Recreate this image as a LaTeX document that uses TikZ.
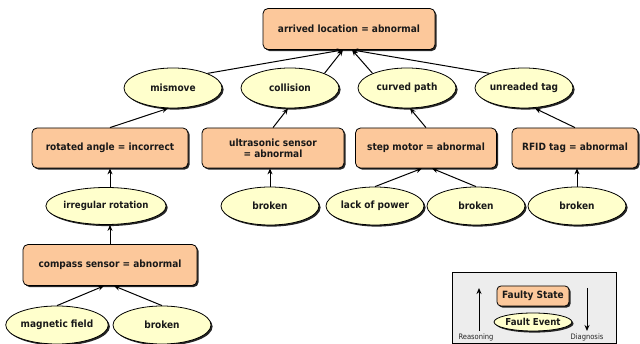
\documentclass[tikz,border=0pt]{standalone}
\usepackage{fontspec}
\setmainfont{DejaVu Sans Condensed}
\usetikzlibrary{arrows.meta,shapes.geometric,shadows}

\definecolor{stateorange}{HTML}{FCC89B}
\definecolor{eventyellow}{HTML}{FFFFCC}
\definecolor{legendgray}{HTML}{EDEDED}

\tikzset{
  faultstate/.style={draw, line width=0.8pt, rounded corners=5pt, fill=stateorange,
    minimum height=40pt, inner sep=1pt, align=center, text=black!90,
    font=\fontsize{10}{11}\selectfont\bfseries,
    drop shadow={shadow xshift=1.6pt, shadow yshift=-1.6pt, fill=black!85, opacity=1}},
  faultevent/.style={draw, line width=0.8pt, ellipse, fill=eventyellow,
    minimum width=98pt, minimum height=40pt, inner sep=0pt, text=black!90,
    font=\fontsize{10}{11}\selectfont\bfseries,
    drop shadow={shadow xshift=1.6pt, shadow yshift=-1.6pt, fill=black!85, opacity=1}},
  link/.style={line width=1pt, -{Stealth[length=6pt,width=5pt]}},
}

\begin{document}
\begin{tikzpicture}[x=1pt, y=-1pt]

  %% ════ 画布 ════
  \path[use as bounding box] (0,0) rectangle (640,344);

  %% ════ 顶层状态 ════
  \node[faultstate, minimum width=172pt, minimum height=41pt] (arrived) at (349,29) {arrived location = abnormal};

  %% ════ 第一层事件 ════
  \node[faultevent] (mismove)   at (173,88) {mismove};
  \node[faultevent] (collision) at (290,88) {collision};
  \node[faultevent] (curved)    at (407,88) {curved path};
  \node[faultevent] (unreaded)  at (524,88) {unreaded tag};

  %% ════ 第二层状态 ════
  \node[faultstate, minimum width=156pt] (rotated)    at (110,148) {rotated angle = incorrect};
  \node[faultstate, minimum width=142pt] (ultrasonic) at (273,148) {ultrasonic sensor\\= abnormal};
  \node[faultstate, minimum width=141pt] (stepmotor)  at (426,148) {step motor = abnormal};
  \node[faultstate, minimum width=126pt] (rfid)       at (575,148) {RFID tag = abnormal};

  %% ════ 第三层事件 ════
  \node[faultevent, minimum width=97pt, minimum height=37pt, font=\fontsize{9.6}{11}\selectfont\bfseries] (irregular) at (106,206) {irregular rotation};
  \node[faultevent, minimum height=38pt] (usbroken)   at (270,206) {broken};
  \node[faultevent, minimum height=38pt] (lackpower)  at (375,206) {lack of power};
  \node[faultevent, minimum height=38pt] (smbroken)   at (476,206) {broken};
  \node[faultevent, minimum height=38pt] (rfidbroken) at (577,206) {broken};

  %% ════ 指南针 ════
  \node[faultstate, minimum width=174pt, minimum height=41pt] (compass) at (110,265) {compass sensor = abnormal};
  \node[faultevent, minimum height=38pt] (magnetic) at (57,325)  {magnetic field};
  \node[faultevent, minimum height=38pt] (cpbroken) at (162,325) {broken};

  %% ════ 连线（子 → 父）════
  \draw[link] (mismove.23)    -- ([xshift=-6pt]arrived.south);
  \draw[link] (collision.23)  -- ([xshift=-6pt]arrived.south);
  \draw[link] (curved.157)    -- ([xshift=3pt]arrived.south);
  \draw[link] (unreaded.157)  -- ([xshift=3pt]arrived.south);

  \draw[link] (rotated.north)                 -- ([xshift=-5pt]mismove.south);
  \draw[link] (ultrasonic.north)              -- ([xshift=-2pt]collision.south);
  \draw[link] (stepmotor.north)               -- ([xshift=3pt]curved.south);
  \draw[link] (rfid.north)                    -- ([xshift=11pt]unreaded.south);

  \draw[link] (irregular.north -| rotated.south) -- (rotated.south);
  \draw[link] (usbroken.north)                -- (usbroken.north |- ultrasonic.south);
  \draw[link] (lackpower.north)               -- ([xshift=-4pt]stepmotor.south);
  \draw[link] (smbroken.north)                -- ([xshift=6pt]stepmotor.south);
  \draw[link] (rfidbroken.north)              -- (rfidbroken.north |- rfid.south);

  \draw[link] (compass.north)                 -- (compass.north |- irregular.south);
  \draw[link] (magnetic.north)                -- ([xshift=-6pt]compass.south);
  \draw[link] (cpbroken.north)                -- ([xshift=4pt]compass.south);

  %% ════ 图例 ════
  \node[draw, line width=0.8pt, fill=legendgray, minimum width=164pt, minimum height=71pt,
        inner sep=0pt] (legend) at (534,307.5) {};
  \node[faultstate, minimum width=72pt, minimum height=20pt, rounded corners=4pt,
        font=\fontsize{10}{11}\selectfont\bfseries] (legstate) at (533,296) {Faulty State};
  \node[faultevent, minimum width=74pt, minimum height=18pt,
        font=\fontsize{9.6}{11}\selectfont\bfseries] (legevent) at (533,322) {Fault Event};
  \coordinate (reasonlo) at (479,331);
  \coordinate (reasonhi) at (479,288);
  \coordinate (diaghi) at (587,288);
  \coordinate (diaglo) at (587,331);
  \draw[link] (reasonlo) -- (reasonhi);
  \draw[link] (diaghi) -- (diaglo);
  \node[font=\fontsize{7.5}{8}\selectfont, text=black!85, inner sep=0pt] (reasonlbl) at (476,337) {Reasoning};
  \node[font=\fontsize{7.5}{8}\selectfont, text=black!85, inner sep=0pt] (diaglbl) at (587,337) {Diagnosis};
\end{tikzpicture}
\end{document}
